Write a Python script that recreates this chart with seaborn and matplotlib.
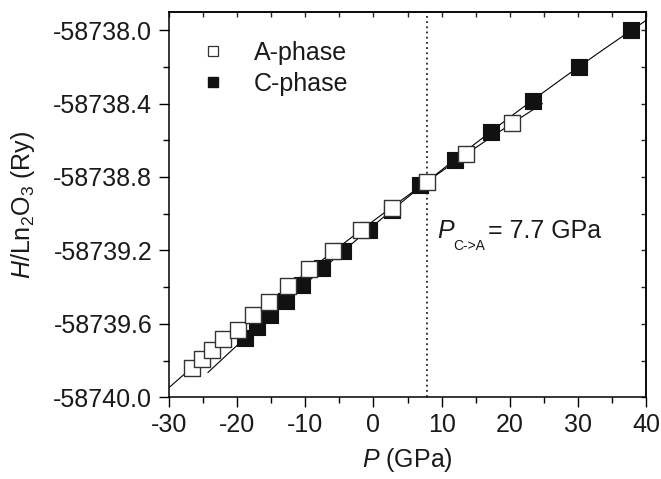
import numpy as np
import pandas as pd
import matplotlib
matplotlib.use("Agg")
import matplotlib.pyplot as plt
from matplotlib.lines import Line2D
from matplotlib.ticker import MultipleLocator, FormatStrFormatter
import seaborn as sns

# ---- data ----
a_P = [-26.69, -25.23, -23.76, -22.01, -19.81, -17.61, -15.27, -12.49, -9.41,
       -5.90, -1.80, 2.74, 7.86, 13.57, 20.31]
a_H = [-58739.842, -58739.793, -58739.744, -58739.684, -58739.635, -58739.553,
       -58739.482, -58739.395, -58739.302, -58739.204, -58739.090, -58738.970,
       -58738.828, -58738.676, -58738.507]
c_P = [-18.79, -17.03, -15.12, -12.78, -10.44, -7.51, -4.44, -0.63, 2.74, 6.84,
       11.96, 17.23, 23.38, 30.12, 37.73]
c_H = [-58739.678, -58739.619, -58739.553, -58739.477, -58739.390, -58739.297,
       -58739.204, -58739.090, -58738.981, -58738.845, -58738.708, -58738.556,
       -58738.387, -58738.202, -58738.000]
a_fit_range = [-30.0, 24.8]
c_fit_range = [-24.3, 40.0]
transition_P = 7.9
annot_label = "= 7.7 GPa"
legend_labels = ["A-phase", "C-phase"]
x_ticks = [-30, -20, -10, 0, 10, 20, 30, 40]
y_ticks = [-58740.0, -58739.6, -58739.2, -58738.8, -58738.4, -58738.0]

df = pd.concat([
    pd.DataFrame({"P": a_P, "H": a_H, "phase": legend_labels[0]}),
    pd.DataFrame({"P": c_P, "H": c_H, "phase": legend_labels[1]}),
])

sns.set_theme(style="ticks")
plt.rcParams["font.family"] = ["Liberation Sans", "DejaVu Sans"]
plt.rcParams["mathtext.fontset"] = "custom"
plt.rcParams["mathtext.rm"] = "Liberation Sans"
plt.rcParams["mathtext.it"] = "Liberation Sans:italic"
plt.rcParams["axes.unicode_minus"] = False

fig = plt.figure(figsize=(6.61, 4.79), dpi=100)
ax = fig.add_axes([169 / 661, 1 - 397.3 / 479, 477 / 661, 385.6 / 479])

# fitted curves
for P, H, rng in [(a_P, a_H, a_fit_range), (c_P, c_H, c_fit_range)]:
    coef = np.polyfit(P, H, 2)
    xs = np.linspace(rng[0], rng[1], 200)
    sns.lineplot(x=xs, y=np.polyval(coef, xs), ax=ax, color="black",
                 linewidth=0.8, zorder=2)

sns.scatterplot(data=df[df.phase == legend_labels[1]], x="P", y="H", ax=ax,
                marker="s", s=120, color="#111111", edgecolor="#111111",
                linewidth=0.8, zorder=3, legend=False)
sns.scatterplot(data=df[df.phase == legend_labels[0]], x="P", y="H", ax=ax,
                marker="s", s=120, color="white", edgecolor="#333333",
                linewidth=1.0, zorder=4, legend=False)

ax.axvline(transition_P, color="black", linestyle=(0, (1.2, 2.2)), linewidth=1.1,
           zorder=1)

ax.set_xlim(-30, 40)
ax.set_ylim(-58740.0, -58737.9)
ax.set_xticks(x_ticks)
ax.set_yticks(y_ticks)
ax.xaxis.set_minor_locator(MultipleLocator(5))
ax.yaxis.set_minor_locator(MultipleLocator(0.2))
ax.xaxis.set_major_formatter(FormatStrFormatter("%d"))
ax.yaxis.set_major_formatter(FormatStrFormatter("%.1f"))
ax.tick_params(axis="both", which="major", direction="out", length=7.5,
               width=1.0, labelsize=18, color="black", labelcolor="#1a1a1a")
ax.tick_params(axis="both", which="minor", direction="out", length=4.5,
               width=1.0, color="black")
ax.tick_params(axis="x", which="major", pad=3.5)
ax.tick_params(axis="y", which="major", pad=4.5)
for sp in ax.spines.values():
    sp.set_visible(True)
    sp.set_linewidth(1.1)
    sp.set_color("black")

# inward ticks on top and right
top = ax.secondary_xaxis("top")
top.xaxis.set_major_locator(MultipleLocator(5))
top.tick_params(direction="in", length=3.5, width=1.0, labeltop=False)
right = ax.secondary_yaxis("right")
right.yaxis.set_major_locator(MultipleLocator(0.2))
right.tick_params(direction="in", length=3.5, width=1.0, labelright=False)

ax.set_xlabel(r"$\mathit{P}$ (GPa)", fontsize=18, labelpad=7, color="#1a1a1a")
ax.set_ylabel(r"$\mathit{H}$/Ln$_\mathregular{2}$O$_\mathregular{3}$ (Ry)",
              fontsize=18, labelpad=12, color="#1a1a1a")

# annotation
ax_x, ax_y = 9.33, -58739.134
ax.text(ax_x, ax_y, "P", fontsize=18, style="italic", ha="left", va="baseline",
        color="#1a1a1a")
ax.annotate("C->A", xy=(ax_x, ax_y), xytext=(11.5, -8.6),
            textcoords="offset points", fontsize=10, ha="left", va="baseline",
            color="#1a1a1a")
ax.annotate(annot_label, xy=(ax_x, ax_y), xytext=(36.5, 0),
            textcoords="offset points", fontsize=18, ha="left", va="baseline",
            color="#1a1a1a")

handles = [
    Line2D([], [], linestyle="none", marker="s", markersize=7.5,
           markerfacecolor="white", markeredgecolor="#333333",
           markeredgewidth=0.9),
    Line2D([], [], linestyle="none", marker="s", markersize=7.5,
           markerfacecolor="#111111", markeredgecolor="#111111"),
]
leg = ax.legend(handles, legend_labels, loc="upper left",
                bbox_to_anchor=(0.0398, 0.925), borderaxespad=0, borderpad=0,
                frameon=False, fontsize=18, handlelength=2.0,
                handletextpad=0.64, labelspacing=0.28)
for t in leg.get_texts():
    t.set_color("#1a1a1a")

fig.savefig("out.png", dpi=100)
